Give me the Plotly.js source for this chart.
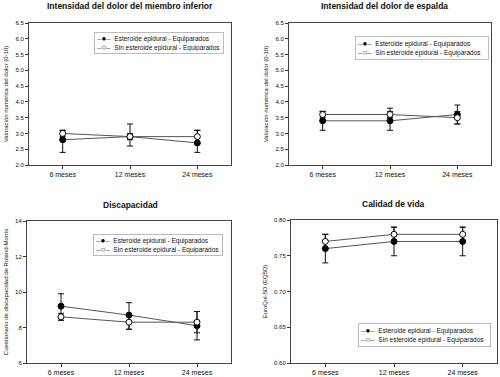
<!DOCTYPE html>
<html><head><meta charset="utf-8">
<script src="https://cdn.plot.ly/plotly-3.0.1.min.js"></script>
<style>html,body{margin:0;padding:0;background:#fff}#chart{width:500px;height:377px}</style>
</head><body><div id="chart"></div>
<script>
const categories = ["6 meses", "12 meses", "24 meses"];
const seriesNames = ["Esteroide epidural - Equiparados", "Sin esteroide epidural - Equiparados"];

// Panel 1: Intensidad del dolor del miembro inferior
const p1Title = "Intensidad del dolor del miembro inferior";
const p1YTitle = "Valoración numérica del dolor (0-10)";
const p1Est = [2.8, 2.9, 2.7];
const p1EstUp = [0.3, 0.4, 0.4];
const p1EstDn = [0.4, 0.3, 0.3];
const p1Sin = [3.0, 2.9, 2.9];
const p1SinUp = [0.1, 0.1, 0.2];
const p1SinDn = [0.1, 0.1, 0.2];
const p1Ticks = [2.0, 2.5, 3.0, 3.5, 4.0, 4.5, 5.0, 5.5, 6.0, 6.5];

// Panel 2: Intensidad del dolor de espalda
const p2Title = "Intensidad del dolor de espalda";
const p2YTitle = "Valoración numérica del dolor (0-10)";
const p2Est = [3.4, 3.4, 3.6];
const p2EstUp = [0.3, 0.4, 0.3];
const p2EstDn = [0.3, 0.3, 0.3];
const p2Sin = [3.6, 3.6, 3.5];
const p2SinUp = [0.1, 0.1, 0.2];
const p2SinDn = [0.1, 0.1, 0.2];
const p2Ticks = [2.0, 2.5, 3.0, 3.5, 4.0, 4.5, 5.0, 5.5, 6.0, 6.5];

// Panel 3: Discapacidad
const p3Title = "Discapacidad";
const p3YTitle = "Cuestionario de discapacidad de Roland-Morris";
const p3Est = [9.2, 8.7, 8.1];
const p3EstUp = [0.7, 0.7, 0.8];
const p3EstDn = [0.7, 0.8, 0.8];
const p3Sin = [8.6, 8.3, 8.3];
const p3SinUp = [0.2, 0.4, 0.6];
const p3SinDn = [0.2, 0.4, 0.6];
const p3Ticks = [6, 8, 10, 12, 14];

// Panel 4: Calidad de vida
const p4Title = "Calidad de vida";
const p4YTitle = "EuroQol-5D (EQ5D)";
const p4Est = [0.76, 0.77, 0.77];
const p4EstErr = [0.02, 0.02, 0.02];
const p4Sin = [0.77, 0.78, 0.78];
const p4SinErr = [0.01, 0.01, 0.01];
const p4Ticks = [0.60, 0.65, 0.70, 0.75, 0.80];

const FONT = "Liberation Sans, Arial, sans-serif";
const xIdx = categories.map((c, i) => i);

function mk(y, up, dn, filled, n) {
  return {
    x: xIdx, y: y, type: "scatter", mode: "lines+markers",
    name: seriesNames[filled ? 0 : 1],
    xaxis: "x" + (n === 1 ? "" : n), yaxis: "y" + (n === 1 ? "" : n),
    showlegend: false,
    line: {color: "#555", width: 1},
    marker: {symbol: "circle", size: 6, color: filled ? "#000" : "#fff", line: {color: "#000", width: 1}},
    error_y: {type: "data", symmetric: false, array: up, arrayminus: dn, color: "#111", thickness: 1, width: 3},
    cliponaxis: false
  };
}

const data = [
  mk(p1Est, p1EstUp, p1EstDn, true, 1),
  mk(p1Sin, p1SinUp, p1SinDn, false, 1),
  mk(p2Est, p2EstUp, p2EstDn, true, 2),
  mk(p2Sin, p2SinUp, p2SinDn, false, 2),
  mk(p3Est, p3EstUp, p3EstDn, true, 3),
  mk(p3Sin, p3SinUp, p3SinDn, false, 3),
  mk(p4Est, p4EstErr, p4EstErr, true, 4),
  mk(p4Sin, p4SinErr, p4SinErr, false, 4)
];

const W = 500, H = 377;
const px = v => v / W, py = v => 1 - v / H;

function xa(l, r, anchor) {
  return {domain: [px(l), px(r)], anchor: anchor, range: [-0.5, 2.5],
    tickvals: xIdx, ticktext: categories, ticks: "outside", ticklen: 3, tickcolor: "#333",
    showline: true, linecolor: "#444", linewidth: 1, mirror: true, showgrid: false, zeroline: false,
    tickfont: {family: FONT, size: 7, color: "#111"}, fixedrange: true};
}
function ya(t, b, anchor, ticks, title, fmt, rng) {
  return {domain: [py(b), py(t)], anchor: anchor, range: rng,
    tickvals: ticks, tickformat: fmt, ticks: "outside", ticklen: 3, tickcolor: "#333",
    showline: true, linecolor: "#444", linewidth: 1, mirror: true, showgrid: false, zeroline: false,
    tickfont: {family: FONT, size: 6, color: "#111"},
    title: {text: title, font: {family: FONT, size: 6, color: "#111"}, standoff: 6}, fixedrange: true};
}

// Legend boxes (compact, like the original figure)
const symFilled = '<span style="font-size:8px;color:#555">–</span><span style="font-size:8px;color:#000">●</span><span style="font-size:8px;color:#555">–</span>';
const symOpen = '<span style="font-size:8px;color:#555">–</span><span style="font-size:8px;color:#000">○</span><span style="font-size:8px;color:#555">–</span>';
function lg(l, t, w, h) {
  return {text: symFilled + "  " + seriesNames[0] + "<br>" + symOpen + "  " + seriesNames[1],
    x: px(l), y: py(t), xref: "paper", yref: "paper", xanchor: "left", yanchor: "top",
    align: "left", showarrow: false, bgcolor: "#fff", bordercolor: "#bbb", borderwidth: 1,
    borderpad: 2, width: w, height: h,
    font: {family: FONT, size: 6.5, color: "#111"}};
}

function ttl(text, cx, cy) {
  return {text: "<b>" + text + "</b>", x: px(cx), y: py(cy), xref: "paper", yref: "paper",
    xanchor: "center", yanchor: "middle", showarrow: false, font: {family: FONT, size: 8.5, color: "#111"}};
}

const layout = {
  width: W, height: H, margin: {l: 0, r: 0, t: 0, b: 0},
  paper_bgcolor: "#fff", plot_bgcolor: "#fff", showlegend: false,
  xaxis: xa(29, 231, "y"),
  yaxis: ya(23, 165, "x", p1Ticks, p1YTitle, ".1f", [2.0, 6.5]),
  xaxis2: xa(289, 491, "y2"),
  yaxis2: ya(23, 165, "x2", p2Ticks, p2YTitle, ".1f", [2.0, 6.5]),
  xaxis3: xa(27, 231, "y3"),
  yaxis3: ya(221, 363, "x3", p3Ticks, p3YTitle, "d", [6, 14]),
  xaxis4: xa(291, 497, "y4"),
  yaxis4: ya(220, 363, "x4", p4Ticks, p4YTitle, ".2f", [0.60, 0.80]),
  annotations: [
    ttl(p1Title, 130, 6),
    ttl(p2Title, 384, 6),
    ttl(p3Title, 130, 205),
    ttl(p4Title, 393, 204),
    lg(94, 32, 124, 16),
    lg(355, 36, 128, 18),
    lg(93, 234, 124, 16),
    lg(358, 323, 127, 18)
  ]
};

Plotly.newPlot("chart", data, layout, {displayModeBar: false, staticPlot: true});
</script></body></html>
